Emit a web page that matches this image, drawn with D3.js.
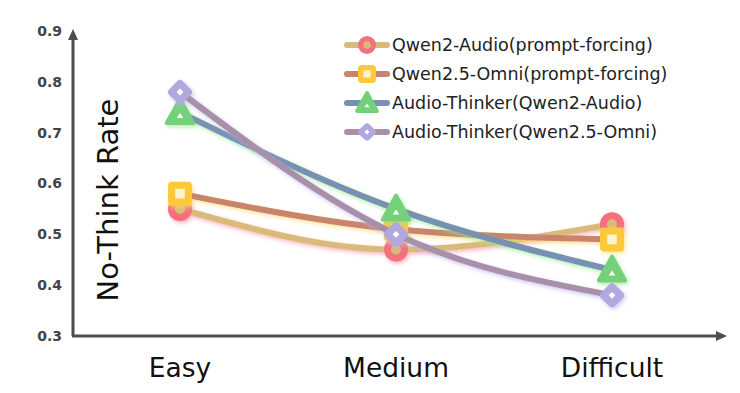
<!DOCTYPE html>
<html>
<head>
<meta charset="utf-8">
<script src="https://cdn.jsdelivr.net/npm/d3@7"></script>
<style>
  body { margin: 0; background: #fff; }
  text { font-family: "DejaVu Sans", sans-serif; }
</style>
</head>
<body>
<div id="chart"></div>
<script>
// categories and tick values
const categories = ['Easy', 'Medium', 'Difficult'];
const yTicks = [0.3, 0.4, 0.5, 0.6, 0.7, 0.8, 0.9];

// series values
const seriesNames = [
  'Qwen2-Audio(prompt-forcing)',
  'Qwen2.5-Omni(prompt-forcing)',
  'Audio-Thinker(Qwen2-Audio)',
  'Audio-Thinker(Qwen2.5-Omni)'
];
const qwen2AudioPF = [0.55, 0.47, 0.52];
const qwen25OmniPF = [0.58, 0.51, 0.49];
const thinkerQwen2 = [0.74, 0.55, 0.43];
const thinkerOmni = [0.78, 0.50, 0.38];

const styles = [
  { line: '#d8bb78', marker: '#f4707e', inner: '#d8bb78', glow: '#ff8fa0', shape: 'circle' },
  { line: '#c8846c', marker: '#fcc93c', inner: '#fdf2d2', glow: '#ffd86a', shape: 'square' },
  { line: '#7890b2', marker: '#74d07a', inner: '#ffffff', glow: '#8fe88f', shape: 'triangle' },
  { line: '#a891a8', marker: '#b1a8e0', inner: '#ffffff', glow: '#b8b0f0', shape: 'diamond' }
];
const allValues = [qwen2AudioPF, qwen25OmniPF, thinkerQwen2, thinkerOmni];

const W = 740, H = 393;
const svg = d3.select('#chart').append('svg')
  .attr('width', W).attr('height', H);

const x = d3.scalePoint().domain(categories).range([180, 612]);
const y = d3.scaleLinear().domain([0.3, 0.9]).range([336, 31]);

// glow filters
const defs = svg.append('defs');
styles.forEach((s, i) => {
  const f = defs.append('filter').attr('id', 'glow' + i)
    .attr('x', '-30%').attr('y', '-30%').attr('width', '160%').attr('height', '160%');
  f.append('feDropShadow').attr('dx', 1.5).attr('dy', 2).attr('stdDeviation', 2)
    .attr('flood-color', s.glow).attr('flood-opacity', 0.7);
});

// y axis
const yAxis = svg.append('g').attr('transform', 'translate(73,0)')
  .call(d3.axisLeft(y).tickValues(yTicks).tickSize(0).tickPadding(11).tickFormat(d3.format('.1f')));
yAxis.select('.domain').remove();
yAxis.selectAll('text')
  .attr('font-size', 14).attr('font-weight', 'bold').attr('fill', '#444')
  .style('font-family', '"DejaVu Sans", sans-serif');

// axis lines with arrows
svg.append('path')
  .attr('d', `M73,${y(0.3)} L73,38`)
  .attr('stroke', '#4d4d4d').attr('stroke-width', 3).attr('fill', 'none');
svg.append('path')
  .attr('d', 'M73,29 L68,40 L78,40 Z').attr('fill', '#4d4d4d');
svg.append('path')
  .attr('d', `M72,${y(0.3)} L718,${y(0.3)}`)
  .attr('stroke', '#4d4d4d').attr('stroke-width', 3).attr('fill', 'none');
svg.append('path')
  .attr('d', `M727,${y(0.3)} L716,${y(0.3) - 5} L716,${y(0.3) + 5} Z`).attr('fill', '#4d4d4d');

// x labels
svg.append('g').selectAll('text')
  .data(categories).enter().append('text')
  .attr('x', d => x(d)).attr('y', 377)
  .attr('text-anchor', 'middle').attr('font-size', 26.5).attr('fill', '#111')
  .text(d => d);

// y title
svg.append('text')
  .attr('transform', 'translate(118,200) rotate(-90)')
  .attr('text-anchor', 'middle').attr('font-size', 29).attr('fill', '#111')
  .text('No-Think Rate');

const line = d3.line()
  .x((d, i) => x(categories[i]))
  .y(d => y(d))
  .curve(d3.curveMonotoneX);

function drawMarker(g, shape, cx, cy, s, size) {
  const m = g.append('g').attr('transform', `translate(${cx},${cy})`);
  const r = size / 2;
  if (shape === 'circle') {
    m.append('circle').attr('r', r).attr('fill', s.marker);
    m.append('circle').attr('r', r * 0.42).attr('fill', s.inner);
  } else if (shape === 'square') {
    m.append('rect').attr('x', -r).attr('y', -r).attr('width', size).attr('height', size)
      .attr('rx', 4).attr('fill', s.marker);
    m.append('rect').attr('x', -r * 0.4).attr('y', -r * 0.4).attr('width', r * 0.8).attr('height', r * 0.8)
      .attr('fill', s.inner);
  } else if (shape === 'triangle') {
    const t = r * 1.1;
    m.append('path').attr('d', `M0,${-t} L${t},${t * 0.8} L${-t},${t * 0.8} Z`)
      .attr('fill', s.marker).attr('stroke', s.marker).attr('stroke-width', 4).attr('stroke-linejoin', 'round');
    m.append('path').attr('d', `M0,${t * 0.05} L${t * 0.25},${t * 0.42} L${-t * 0.25},${t * 0.42} Z`)
      .attr('fill', s.inner);
  } else {
    m.append('rect').attr('x', -r * 0.8).attr('y', -r * 0.8).attr('width', r * 1.6).attr('height', r * 1.6)
      .attr('rx', 4).attr('transform', 'rotate(45)').attr('fill', s.marker);
    m.append('rect').attr('x', -r * 0.2).attr('y', -r * 0.2).attr('width', r * 0.4).attr('height', r * 0.4)
      .attr('transform', 'rotate(45)').attr('fill', s.inner);
  }
}

// series
allValues.forEach((vals, i) => {
  const s = styles[i];
  const g = svg.append('g').attr('filter', `url(#glow${i})`);
  g.append('path').datum(vals)
    .attr('d', line)
    .attr('fill', 'none').attr('stroke', s.line).attr('stroke-width', 6)
    .attr('stroke-linecap', 'round');
  vals.forEach((v, j) => drawMarker(g, s.shape, x(categories[j]), y(v), s, 24));
});

// legend
const legend = svg.append('g').attr('transform', 'translate(347,45)');
seriesNames.forEach((name, i) => {
  const s = styles[i];
  const row = legend.append('g').attr('transform', `translate(0,${i * 29})`);
  row.append('line').attr('x1', 0).attr('x2', 40).attr('y1', 0).attr('y2', 0)
    .attr('stroke', s.line).attr('stroke-width', 6).attr('stroke-linecap', 'round');
  drawMarker(row, s.shape, 20, 0, s, 18);
  row.append('text').attr('x', 45).attr('y', 6)
    .attr('font-size', 17.5).attr('fill', '#222')
    .text(name);
});
</script>
</body>
</html>
